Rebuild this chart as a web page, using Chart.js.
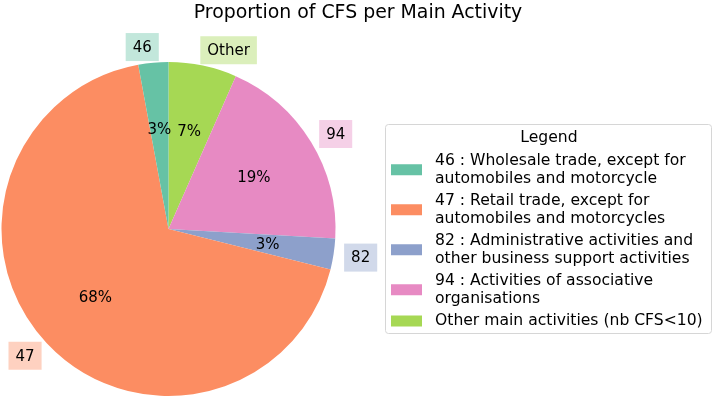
<!DOCTYPE html>
<html>
<head>
<meta charset="utf-8">
<script src="https://cdn.jsdelivr.net/npm/chart.js@4"></script>
<style>
  body { margin: 0; background: #fff; }
  canvas { display: block; }
</style>
</head>
<body>
<canvas id="pieChart" width="714" height="398"></canvas>
<script>
// Data (matplotlib order: counter-clockwise from the top)
const codes = ['46', '47', '82', '94', 'Other'];
const shares = [2.9, 68.2, 3.0, 19.3, 6.6];
const colors = ['#66c2a5', '#fc8d62', '#8da0cb', '#e78ac3', '#a6d854'];
const boxColors = ['rgba(102,194,165,0.4)', 'rgba(252,141,98,0.4)', 'rgba(141,160,203,0.4)', 'rgba(231,138,195,0.4)', 'rgba(166,216,84,0.4)'];
const legendLabels = [
  ['46 : Wholesale trade, except for', 'automobiles and motorcycle'],
  ['47 : Retail trade, except for', 'automobiles and motorcycles'],
  ['82 : Administrative activities and', 'other business support activities'],
  ['94 : Activities of associative', 'organisations'],
  ['Other main activities (nb CFS<10)']
];
const chartTitle = 'Proportion of CFS per Main Activity';
const legendTitle = 'Legend';

const FONT = '"DejaVu Sans", sans-serif';

// Chart.js draws clockwise, so feed it reversed
const rev = arr => arr.slice().reverse();

const labelPlugin = {
  id: 'pieLabels',
  afterDatasetsDraw(chart) {
    const ctx = chart.ctx;
    const meta = chart.getDatasetMeta(0);
    const revCodes = rev(codes);
    const revShares = rev(shares);
    const revBox = rev(boxColors);
    ctx.save();
    ctx.font = '15px ' + FONT;
    ctx.textBaseline = 'middle';
    meta.data.forEach((arc, i) => {
      const p = arc.getProps(['x', 'y', 'startAngle', 'endAngle', 'outerRadius'], true);
      const mid = (p.startAngle + p.endAngle) / 2;
      const c = Math.cos(mid), s = Math.sin(mid);
      // percent text
      ctx.fillStyle = '#000';
      ctx.textAlign = 'center';
      ctx.fillText(Math.round(revShares[i]) + '%', p.x + 0.6 * p.outerRadius * c, p.y + 0.6 * p.outerRadius * s + 1);
      // outside code label with box
      const lx = p.x + 1.1 * p.outerRadius * c;
      const ly = p.y + 1.1 * p.outerRadius * s + 1;
      const w = ctx.measureText(revCodes[i]).width;
      const left = c >= 0 ? lx + 1 : lx - w;
      ctx.fillStyle = revBox[i];
      ctx.fillRect(left - 7, ly - 14, w + 14, 28);
      ctx.fillStyle = '#000';
      ctx.textAlign = 'left';
      ctx.fillText(revCodes[i], left, ly + 1);
    });
    ctx.restore();
  },
  afterDraw(chart) {
    const ctx = chart.ctx;
    ctx.save();
    // title
    ctx.fillStyle = '#000';
    ctx.font = '18.9px ' + FONT;
    ctx.textAlign = 'center';
    ctx.textBaseline = 'middle';
    ctx.fillText(chartTitle, 358, 13);

    // legend frame
    ctx.beginPath();
    ctx.roundRect(385.5, 124.5, 326, 209, 3);
    ctx.fillStyle = 'rgba(255,255,255,0.8)';
    ctx.fill();
    ctx.strokeStyle = '#d6d6d6';
    ctx.lineWidth = 1;
    ctx.stroke();

    ctx.font = '15.6px ' + FONT;
    ctx.fillStyle = '#000';
    ctx.fillText(legendTitle, 549, 138);

    ctx.textAlign = 'left';
    const lh = 17.5;
    let y = 161;
    legendLabels.forEach((lines, i) => {
      const cy = y + (lines.length - 1) * lh / 2;
      ctx.fillStyle = colors[i];
      ctx.fillRect(391, cy - 5.5, 31, 11);
      ctx.fillStyle = '#000';
      lines.forEach((t, k) => ctx.fillText(t, 435, y + k * lh));
      y += lines.length * lh + 5;
    });
    ctx.restore();
  }
};

const ctx = document.getElementById('pieChart').getContext('2d');
const pieChart = new Chart(ctx, {
  type: 'pie',
  data: {
    labels: rev(codes),
    datasets: [{
      data: rev(shares),
      backgroundColor: rev(colors),
      borderWidth: 0
    }]
  },
  options: {
    responsive: false,
    animation: false,
    layout: {
      padding: { left: 1, top: 62, right: 378, bottom: 2 }
    },
    plugins: {
      legend: { display: false },
      tooltip: { enabled: false },
      title: { display: false }
    }
  },
  plugins: [labelPlugin]
});
</script>
</body>
</html>
